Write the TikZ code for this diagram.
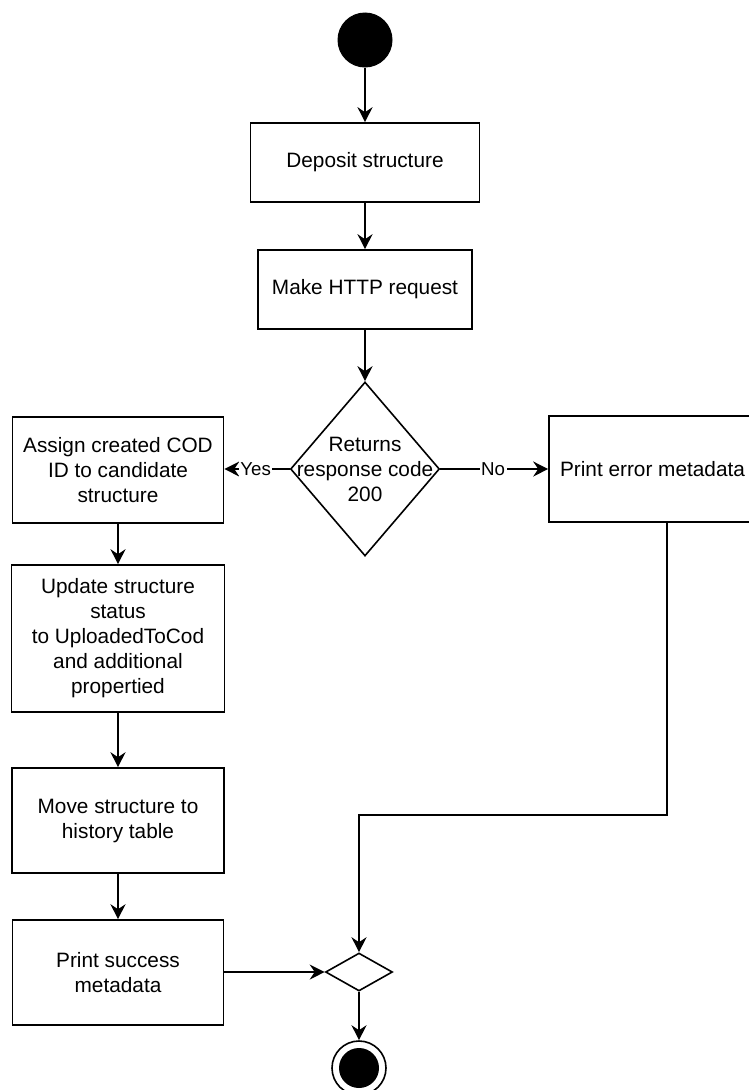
\documentclass[tikz,border=0pt]{standalone}
\usepackage{fontspec}
\setmainfont{Liberation Sans}
\usetikzlibrary{shapes.geometric,arrows.meta}

\tikzset{
  every node/.style={font=\fontsize{20.8}{25}\selectfont},
  flow/.style={line width=1.6pt},
  arr/.style={flow,-{Stealth[length=15pt,width=15pt,inset=5pt]}},
  actbox/.style={draw,line width=1.6pt,rectangle,inner sep=0pt,align=center},
  decbox/.style={draw,line width=1.6pt,diamond,inner sep=0pt},
  edgelabel/.style={fill=white,inner sep=1.5pt,font=\fontsize{18.7}{22}\selectfont},
}

\begin{document}
\begin{tikzpicture}[x=1pt,y=-1pt]
  \useasboundingbox (0,0) rectangle (749,1090);

  % start state
  \node (start) [circle,fill=black,draw,line width=1pt,minimum size=54pt,inner sep=0pt] at (365,40) {};

  % main column
  \node (deposit) [actbox,minimum width=229pt,minimum height=79pt] at (365,162.5) {Deposit structure};
  \node (http) [actbox,minimum width=214pt,minimum height=79pt] at (365,289.5) {Make HTTP request};

  % decision
  \node (decide) [decbox,minimum width=149pt,minimum height=174pt] at (365,469) {};
  \node (decidetxt) [align=center,inner sep=0pt] at (decide.center) {Returns\\response code\\200};

  % error branch
  \node (error) [actbox,minimum width=207pt,minimum height=106pt] at (652.5,469) {Print error metadata};

  % success column
  \node (assign) [actbox,minimum width=211pt,minimum height=106pt] at (118,470) {Assign created COD\\ID to candidate\\structure};
  \node (update) [actbox,minimum width=213pt,minimum height=147pt] at (118,638.5) {Update structure\\status\\to UploadedToCod\\and additional\\propertied};
  \node (move) [actbox,minimum width=212pt,minimum height=105pt] at (118,820.5) {Move structure to\\history table};
  \node (success) [actbox,minimum width=211pt,minimum height=105pt] at (118,972.5) {Print success\\metadata};

  % merge and final state
  \node (merge) [decbox,minimum width=67pt,minimum height=38pt] at (359,972) {};
  \node (final) [circle,draw,line width=1.6pt,minimum size=54pt,inner sep=0pt] at (359,1068) {};
  \node (finaldot) [circle,fill=black,minimum size=40pt,inner sep=0pt] at (final.center) {};

  % helper points for the error route
  \coordinate (errx) at (667,0);
  \coordinate (bend) at (667,815);

  % connectors
  \draw[arr] (start) -- (deposit);
  \draw[arr] (deposit) -- (http);
  \draw[arr] (http) -- (decide.north);
  \draw[arr] (decide.west) -- node[edgelabel,pos=0.52] (yes) {Yes} (assign.east |- decide.west);
  \draw[arr] (decide.east) -- node[edgelabel,pos=0.49] (no) {No} (error.west |- decide.east);
  \draw[arr] (assign) -- (update);
  \draw[arr] (update) -- (move);
  \draw[arr] (move) -- (success);
  \draw[arr] (success.east |- merge.west) -- (merge.west);
  \draw[arr] (error.south -| errx) -- (bend) -| (merge.north);
  \draw[arr] (merge.south) -- (final.north);
\end{tikzpicture}
\end{document}
